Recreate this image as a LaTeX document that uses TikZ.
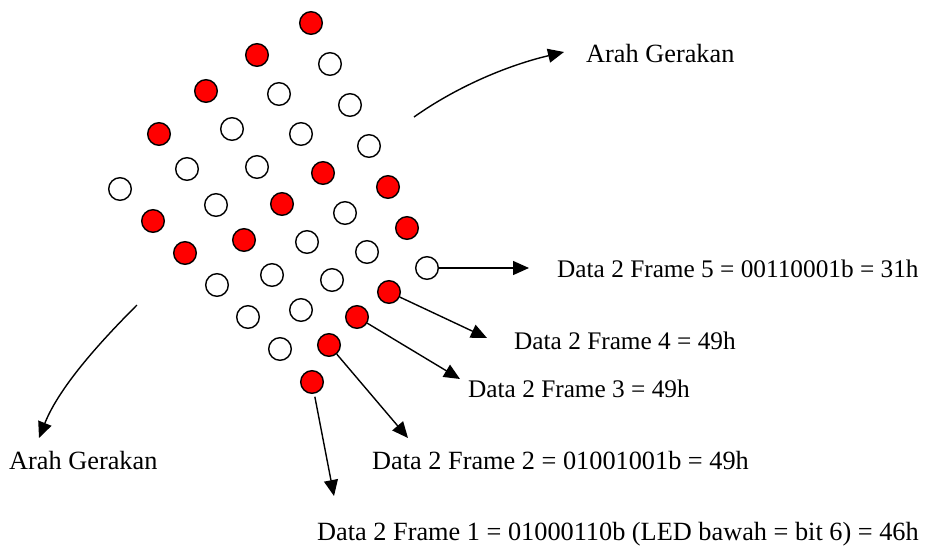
\documentclass[tikz,border=0pt]{standalone}
\usepackage{fontspec}
\setmainfont{Liberation Serif}
\usetikzlibrary{arrows.meta}
\definecolor{ledon}{RGB}{255,0,0}
\tikzset{
  led/.style={circle, draw=black, line width=1.4pt, inner sep=0pt, minimum size=22.6pt, fill=white},
  ledon/.style={led, fill=ledon},
  label text/.style={anchor=base west, inner sep=0pt, font=\fontsize{25.3pt}{28pt}\selectfont},
  big text/.style={label text, font=\fontsize{26.3pt}{29pt}\selectfont},
  pointer/.style={line width=1.4pt, -{Triangle[length=16pt, width=14pt]}},
}
\begin{document}
\begin{tikzpicture}[x=1pt, y=-1pt]
\useasboundingbox (0,0) rectangle (951,546);

% Frame 1 = 01000110b (bottom LED = bit 6)
\node[ledon] (f1b6) at (312,382) {};
\node[led]   (f1b5) at (280,349) {};
\node[led]   (f1b4) at (248,317) {};
\node[led]   (f1b3) at (217,285) {};
\node[ledon] (f1b2) at (185,253) {};
\node[ledon] (f1b1) at (153,221) {};
\node[led]   (f1b0) at (120,189) {};

% Frame 2 = 01001001b
\node[ledon] (f2b6) at (329,345) {};
\node[led]   (f2b5) at (301,310) {};
\node[led]   (f2b4) at (272,275) {};
\node[ledon] (f2b3) at (244,240) {};
\node[led]   (f2b2) at (216,205) {};
\node[led]   (f2b1) at (187,169) {};
\node[ledon] (f2b0) at (159,134) {};

% Frame 3 = 01001001b
\node[ledon] (f3b6) at (357,317) {};
\node[led]   (f3b5) at (332,280) {};
\node[led]   (f3b4) at (307,242) {};
\node[ledon] (f3b3) at (282,204) {};
\node[led]   (f3b2) at (257,167) {};
\node[led]   (f3b1) at (232,129) {};
\node[ledon] (f3b0) at (206,91) {};

% Frame 4 = 01001001b
\node[ledon] (f4b6) at (389,292) {};
\node[led]   (f4b5) at (367,252) {};
\node[led]   (f4b4) at (345,213) {};
\node[ledon] (f4b3) at (323,173) {};
\node[led]   (f4b2) at (301,134) {};
\node[led]   (f4b1) at (279,94) {};
\node[ledon] (f4b0) at (257,55) {};

% Frame 5 = 00110001b
\node[led]   (f5b6) at (427,268) {};
\node[ledon] (f5b5) at (407,228) {};
\node[ledon] (f5b4) at (388,187) {};
\node[led]   (f5b3) at (369,146) {};
\node[led]   (f5b2) at (350,105) {};
\node[led]   (f5b1) at (330,64) {};
\node[ledon] (f5b0) at (311,23) {};

% Arrow end points
\coordinate (t5) at (529,268);
\coordinate (t4) at (487,338);
\coordinate (t3) at (460,379);
\coordinate (t2) at (408,438);
\coordinate (t1) at (334,496);

\draw[pointer] (f5b6) -- (t5);
\draw[pointer] (f4b6) -- (t4);
\draw[pointer] (f3b6) -- (t3);
\draw[pointer] (f2b6) -- (t2);
\draw[pointer, shorten <=3pt] (f1b6) -- (t1);

% Labels
\node[label text] (l5) at (557,277) {Data 2 Frame 5 = 00110001b = 31h};
\node[label text] (l4) at (514,349) {Data 2 Frame 4 = 49h};
\node[label text] (l3) at (468,397) {Data 2 Frame 3 = 49h};
\node[big text]   (l2) at (372,469) {Data 2 Frame 2 = 01001001b = 49h};
\node[big text]   (l1) at (317,540) {Data 2 Frame 1 = 01000110b (LED bawah = bit 6) = 46h};

% Direction of movement
\coordinate (m1s) at (414,117);
\coordinate (m1e) at (564,52);
\draw[pointer] (m1s) .. controls (455,88) and (505,66) .. (m1e);
\node[big text] (g1) at (586,62) {Arah Gerakan};

\coordinate (m2s) at (137,305);
\coordinate (m2e) at (39,438);
\draw[pointer] (m2s) .. controls (105,337) and (60,385) .. (m2e);
\node[big text] (g2) at (9,469) {Arah Gerakan};
\end{tikzpicture}
\end{document}
